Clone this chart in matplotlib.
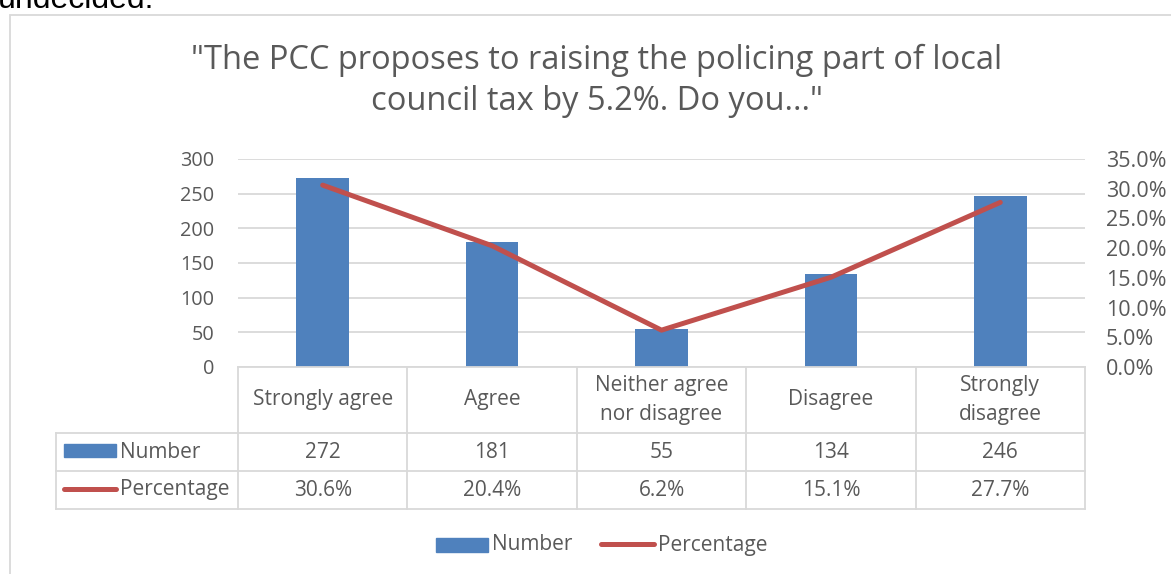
import numpy as np
import matplotlib.pyplot as plt
from matplotlib.lines import Line2D
from matplotlib.patches import Rectangle

categories = ["Strongly agree", "Agree", "Neither agree\nnor disagree", "Disagree", "Strongly\ndisagree"]
number = [272, 181, 55, 134, 246]
percentage = [30.6, 20.4, 6.2, 15.1, 27.7]

W, H = 1171, 574
blue = "#4f81bd"
red = "#c0504d"
txt = "#595959"
grid = "#d9d9d9"
plt.rcParams['font.family'] = ['Open Sans', 'DejaVu Sans']

fig = plt.figure(figsize=(W / 100, H / 100), dpi=100)

def fx(x):
    return x / W

def fy(y):
    return 1 - y / H

def hline(x0, x1, y, c=grid, lw=1.3):
    fig.add_artist(Line2D([fx(x0), fx(x1)], [fy(y), fy(y)], color=c, lw=lw))

def vline(x, y0, y1, c=grid, lw=1.3):
    fig.add_artist(Line2D([fx(x), fx(x)], [fy(y0), fy(y1)], color=c, lw=lw))

# leftover text from the page above the chart
fig.text(fx(-2), fy(8), "undecided.", fontsize=23, family="Liberation Sans", color="black", va="baseline")

# chart border
fig.add_artist(Rectangle((fx(10), fy(600)), fx(1200), fy(15) - fy(600), fill=False, ec=grid, lw=1.3))

# plot area
left, right, top, bottom = 238, 1085, 159, 367
ax = fig.add_axes([fx(left), fy(bottom), fx(right - left), fy(top) - fy(bottom)])
x = np.arange(len(categories))
ax.bar(x, number, width=0.31, color=blue, zorder=3)
ax.set_xlim(-0.5, len(categories) - 0.5)
ax.set_ylim(0, 300)
ax.set_yticks(range(0, 301, 50))
ax.set_xticks([])
ax.yaxis.grid(True, color=grid, lw=1.3, zorder=0)
ax.tick_params(axis='y', length=0, pad=17, labelsize=14.3, labelcolor=txt)
for s in ax.spines.values():
    s.set_visible(False)

ax2 = ax.twinx()
ax2.plot(x, np.array(percentage) / 100, color=red, lw=3.6, solid_capstyle='round', zorder=4)
ax2.set_ylim(0, 0.35)
ax2.set_yticks(np.arange(0, 0.351, 0.05))
ax2.set_yticklabels(["%.1f%%" % (v * 100) for v in np.arange(0, 0.351, 0.05)])
ax2.tick_params(axis='y', length=0, pad=15, labelsize=15.5, labelcolor=txt)
for s in ax2.spines.values():
    s.set_visible(False)

# title
fig.text(fx(597), fy(81), "\"The PCC proposes to raising the policing part of local\ncouncil tax by 5.2%. Do you...\"",
         ha="center", va="center", fontsize=23.5, color=txt, linespacing=1.3)

# data table
cols = np.linspace(left, right, len(categories) + 1)
r0, r1, r2, r3 = bottom, 433, 471, 509
tl = 56
hline(left, right, r0)
hline(tl, right, r1)
hline(tl, right, r2)
hline(tl, right, r3)
vline(tl, r1, r3)
for c in cols:
    vline(c, r0, r3)
fs = 15
for i, cat in enumerate(categories):
    cx = (cols[i] + cols[i + 1]) / 2
    fig.text(fx(cx), fy((r0 + r1) / 2), cat, ha="center", va="center", fontsize=fs, color=txt, linespacing=1.5)
    fig.text(fx(cx), fy((r1 + r2) / 2), str(number[i]), ha="center", va="center", fontsize=fs, color=txt)
    fig.text(fx(cx), fy((r2 + r3) / 2), "%.1f%%" % percentage[i], ha="center", va="center", fontsize=fs, color=txt)

fig.add_artist(Rectangle((fx(64), fy(457)), fx(52), fy(444) - fy(457), color=blue))
fig.text(fx(120), fy((r1 + r2) / 2), "Number", va="center", fontsize=fs, color=txt)
fig.add_artist(Line2D([fx(64), fx(116)], [fy(489), fy(489)], color=red, lw=3.6, solid_capstyle='round'))
fig.text(fx(120), fy((r2 + r3) / 2), "Percentage", va="center", fontsize=fs, color=txt)

# legend
fig.add_artist(Rectangle((fx(436), fy(552)), fx(52), fy(538) - fy(552), color=blue))
fig.text(fx(492), fy(545), "Number", va="center", fontsize=fs, color=txt)
fig.add_artist(Line2D([fx(601), fx(654)], [fy(544), fy(544)], color=red, lw=3.6, solid_capstyle='round'))
fig.text(fx(658), fy(545), "Percentage", va="center", fontsize=fs, color=txt)

fig.savefig("out.png", dpi=100)
